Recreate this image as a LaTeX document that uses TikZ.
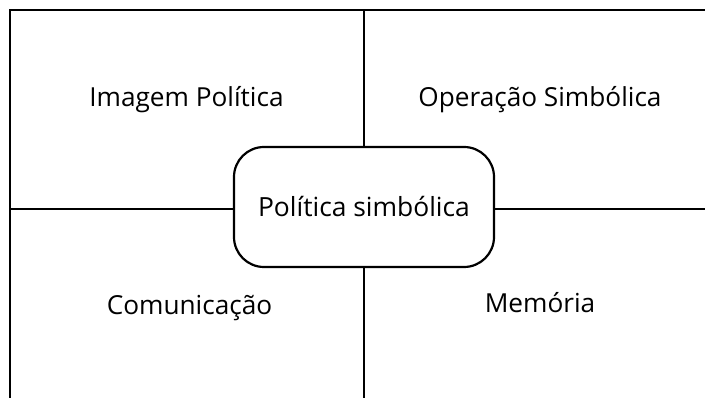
\documentclass[tikz,border=0pt]{standalone}
\usepackage{fontspec}
\setmainfont{Open Sans}
\begin{document}
\begin{tikzpicture}[x=1pt,y=1pt,
  rule/.style={line width=2.2pt},
  hub/.style={draw, line width=2.2pt, rounded corners=30pt, fill=white, minimum width=260pt, minimum height=120pt, inner sep=0pt, font=\fontsize{26.4}{30}\selectfont},
  lbl/.style={anchor=base, inner sep=0pt, font=\fontsize{26.2}{30}\selectfont}]
\useasboundingbox (0,0) rectangle (705,398);
\coordinate (tl) at (10,388);
\coordinate (tr) at (705,388);
\coordinate (bl) at (10,0);
\coordinate (vt) at (364,388);
\coordinate (vb) at (364,0);
\coordinate (hl) at (10,189);
\coordinate (hr) at (705,189);
\draw[rule] (bl) -- (tl) -- (tr);
\draw[rule] (vt) -- (vb);
\draw[rule] (hl) -- (hr);
\node[hub] (c) at (364,191) {Política simbólica};
\node[lbl] (a) at (186.5,291) {Imagem Política};
\node[lbl] (b) at (540,291) {Operação Simbólica};
\node[lbl] (d) at (189.5,83) {Comunicação};
\node[lbl] (e) at (540,85) {Memória};
\end{tikzpicture}
\end{document}
